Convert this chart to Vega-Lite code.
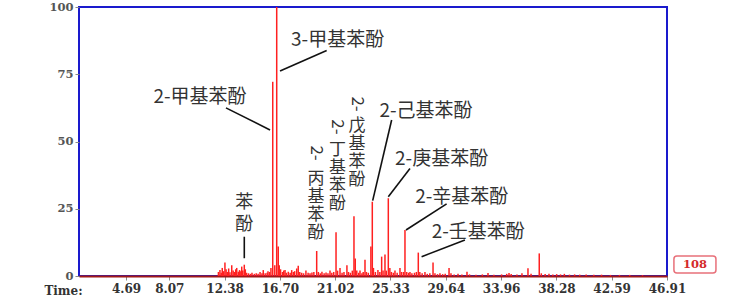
{
  "$schema": "https://vega.github.io/schema/vega-lite/v6.json",
  "width": 588,
  "height": 269,
  "autosize": "none",
  "padding": {"left": 79, "top": 7, "right": 89, "bottom": 24},
  "background": "white",
  "config": {"view": {"stroke": "#1a1acd", "strokeWidth": 2}},
  "datasets": {
    "peaks": [
      {"t": 11.9, "v": 1.5}, {"t": 12.02, "v": 2.2}, {"t": 12.12, "v": 1.2}, {"t": 12.2, "v": 3}, {"t": 12.3, "v": 1.8},
      {"t": 12.41, "v": 5}, {"t": 12.5, "v": 2.5}, {"t": 12.6, "v": 1.5}, {"t": 12.7, "v": 2.8}, {"t": 12.8, "v": 1.4},
      {"t": 12.94, "v": 4}, {"t": 13.05, "v": 2}, {"t": 13.15, "v": 1.5}, {"t": 13.25, "v": 2.5}, {"t": 13.33, "v": 3},
      {"t": 13.45, "v": 1.6}, {"t": 13.55, "v": 2.2}, {"t": 13.65, "v": 1.8}, {"t": 13.72, "v": 3.5}, {"t": 13.8, "v": 2},
      {"t": 13.92, "v": 4.2}, {"t": 14.0, "v": 2.5}, {"t": 14.1, "v": 1.2}, {"t": 14.25, "v": 1}, {"t": 14.4, "v": 0.8},
      {"t": 14.52, "v": 1.2}, {"t": 14.7, "v": 0.8}, {"t": 14.85, "v": 1}, {"t": 15.0, "v": 0.8}, {"t": 15.15, "v": 1.5},
      {"t": 15.3, "v": 1}, {"t": 15.4, "v": 2.2}, {"t": 15.55, "v": 1}, {"t": 15.7, "v": 1.2}, {"t": 15.77, "v": 1.8},
      {"t": 15.9, "v": 1.5}, {"t": 16.0, "v": 3}, {"t": 16.14, "v": 72.2}, {"t": 16.3, "v": 4}, {"t": 16.45, "v": 100},
      {"t": 16.57, "v": 11}, {"t": 16.65, "v": 4}, {"t": 16.75, "v": 2.5}, {"t": 16.9, "v": 1.5}, {"t": 17.0, "v": 2},
      {"t": 17.1, "v": 2.2}, {"t": 17.2, "v": 1.2}, {"t": 17.35, "v": 1.6}, {"t": 17.5, "v": 1.2}, {"t": 17.62, "v": 2.2},
      {"t": 17.75, "v": 1.5}, {"t": 17.85, "v": 1.8}, {"t": 18.01, "v": 2.8}, {"t": 18.13, "v": 3.8}, {"t": 18.25, "v": 1.5},
      {"t": 18.4, "v": 1.2}, {"t": 18.55, "v": 1}, {"t": 18.73, "v": 2}, {"t": 18.9, "v": 1.2}, {"t": 19.05, "v": 1},
      {"t": 19.2, "v": 1.3}, {"t": 19.35, "v": 1.5}, {"t": 19.57, "v": 9.3}, {"t": 19.7, "v": 1.5}, {"t": 19.85, "v": 1},
      {"t": 19.98, "v": 1.6}, {"t": 20.15, "v": 1}, {"t": 20.3, "v": 1.3}, {"t": 20.45, "v": 1}, {"t": 20.61, "v": 2},
      {"t": 20.75, "v": 1.2}, {"t": 20.9, "v": 1.5}, {"t": 21.08, "v": 16.3}, {"t": 21.2, "v": 2}, {"t": 21.39, "v": 3},
      {"t": 21.55, "v": 1.2}, {"t": 21.7, "v": 1.5}, {"t": 21.93, "v": 4}, {"t": 22.05, "v": 1.5}, {"t": 22.2, "v": 1.2},
      {"t": 22.35, "v": 2}, {"t": 22.48, "v": 22.2}, {"t": 22.58, "v": 6.5}, {"t": 22.7, "v": 2}, {"t": 22.85, "v": 1.2},
      {"t": 22.95, "v": 2}, {"t": 23.1, "v": 1}, {"t": 23.2, "v": 1.5}, {"t": 23.34, "v": 6}, {"t": 23.45, "v": 1.5},
      {"t": 23.6, "v": 1.2}, {"t": 23.8, "v": 11}, {"t": 23.91, "v": 27.6}, {"t": 24.0, "v": 3}, {"t": 24.15, "v": 1.5},
      {"t": 24.35, "v": 2.2}, {"t": 24.5, "v": 1.5}, {"t": 24.64, "v": 7.2}, {"t": 24.75, "v": 2}, {"t": 24.9, "v": 8},
      {"t": 25.0, "v": 2}, {"t": 25.16, "v": 28.9}, {"t": 25.28, "v": 3}, {"t": 25.4, "v": 1.5}, {"t": 25.55, "v": 1.2},
      {"t": 25.68, "v": 2}, {"t": 25.85, "v": 1.2}, {"t": 26.07, "v": 3}, {"t": 26.2, "v": 1.5}, {"t": 26.35, "v": 1.5},
      {"t": 26.46, "v": 17.1}, {"t": 26.6, "v": 1.5}, {"t": 26.75, "v": 1.2}, {"t": 26.85, "v": 1.5}, {"t": 27.0, "v": 1},
      {"t": 27.2, "v": 1.2}, {"t": 27.35, "v": 1.5}, {"t": 27.5, "v": 8.7}, {"t": 27.62, "v": 1.5}, {"t": 27.8, "v": 1},
      {"t": 28.02, "v": 1.5}, {"t": 28.2, "v": 0.8}, {"t": 28.4, "v": 1}, {"t": 28.65, "v": 5}, {"t": 28.8, "v": 1},
      {"t": 29.0, "v": 0.7}, {"t": 29.19, "v": 1}, {"t": 29.4, "v": 0.7}, {"t": 29.6, "v": 0.8}, {"t": 29.9, "v": 3},
      {"t": 30.05, "v": 1}, {"t": 30.3, "v": 0.6}, {"t": 30.6, "v": 0.8}, {"t": 30.9, "v": 0.6}, {"t": 31.3, "v": 1.6},
      {"t": 31.5, "v": 0.6}, {"t": 32.0, "v": 0.5}, {"t": 32.5, "v": 0.6}, {"t": 32.94, "v": 1.1}, {"t": 33.4, "v": 0.5},
      {"t": 34.0, "v": 0.6}, {"t": 34.4, "v": 0.8}, {"t": 34.58, "v": 1.1}, {"t": 34.75, "v": 0.7}, {"t": 35.2, "v": 0.6},
      {"t": 35.59, "v": 1}, {"t": 36.06, "v": 2.9}, {"t": 36.3, "v": 0.8}, {"t": 36.94, "v": 8.4}, {"t": 37.1, "v": 1},
      {"t": 37.4, "v": 0.7}, {"t": 37.7, "v": 0.8}, {"t": 38.0, "v": 0.6}, {"t": 38.3, "v": 0.7}, {"t": 38.6, "v": 0.6},
      {"t": 38.9, "v": 0.8}, {"t": 39.3, "v": 0.5}, {"t": 39.7, "v": 0.6}, {"t": 40.1, "v": 0.5}, {"t": 40.6, "v": 0.6},
      {"t": 41.2, "v": 0.5}, {"t": 41.8, "v": 0.5}, {"t": 42.5, "v": 0.4}, {"t": 43.2, "v": 0.4}, {"t": 44.0, "v": 0.4},
      {"t": 45.0, "v": 0.3}
    ],
    "labels": [
      {"name": "2-甲基苯酚", "t": 10.46, "v": 66.5},
      {"name": "3-甲基苯酚", "t": 21.2, "v": 87.7},
      {"name": "2-己基苯酚", "t": 28.1, "v": 61.3},
      {"name": "2-庚基苯酚", "t": 29.32, "v": 43.5},
      {"name": "2-辛基苯酚", "t": 30.89, "v": 29.4},
      {"name": "2-壬基苯酚", "t": 32.18, "v": 16.2}
    ],
    "vlabels": [
      {"name": "丙\n基\n苯\n酚", "t": 19.52, "v": 39.0, "pv": 45.7},
      {"name": "丁\n基\n苯\n酚", "t": 21.19, "v": 49.8, "pv": 55.4},
      {"name": "戊\n基\n苯\n酚", "t": 22.71, "v": 58.7, "pv": 63.9}
    ],
    "phenol": [
      {"name": "苯\n酚", "t": 13.92, "v": 30.5}
    ],
    "leaders": [
      {"t1": 12.49, "v1": 62.5, "t2": 15.93, "v2": 54.3},
      {"t1": 16.71, "v1": 76.2, "t2": 20.35, "v2": 83.8},
      {"t1": 23.94, "v1": 28.0, "t2": 25.42, "v2": 58.0},
      {"t1": 25.16, "v1": 29.5, "t2": 26.85, "v2": 40.0},
      {"t1": 26.54, "v1": 17.1, "t2": 29.71, "v2": 26.8},
      {"t1": 27.76, "v1": 7.2, "t2": 31.14, "v2": 13.4},
      {"t1": 13.92, "v1": 6.6, "t2": 13.92, "v2": 14.6}
    ]
  },
  "layer": [
    {
      "data": {"name": "peaks"},
      "mark": {"type": "rule", "color": "#ff2020", "strokeWidth": 1.5},
      "encoding": {
        "x": {
          "field": "t", "type": "quantitative",
          "scale": {"domain": [1.02, 46.91], "nice": false, "zero": false},
          "axis": {
            "title": "Time:",
            "values": [4.69, 8.07, 12.38, 16.70, 21.02, 25.33, 29.64, 33.96, 38.28, 42.59, 46.91],
            "format": ".2f",
            "domainColor": "#a01818", "domainWidth": 2,
            "tickColor": "#888888", "tickSize": 4,
            "labelFont": "DejaVu Serif", "labelFontWeight": "bold", "labelFontSize": 12, "labelColor": "#333333",
            "labelPadding": 3, "labelFlush": false, "labelOverlap": false, "grid": false,
            "titleFont": "DejaVu Serif", "titleFontWeight": "bold", "titleFontSize": 12, "titleColor": "#333333",
            "titleX": -16, "titleY": 14, "titleAlign": "center", "titleBaseline": "middle"
          }
        },
        "y": {
          "field": "v", "type": "quantitative",
          "scale": {"domain": [0, 100], "nice": false},
          "axis": {
            "title": null, "values": [0, 25, 50, 75, 100], "domain": false, "grid": false,
            "tickColor": "#888888", "tickSize": 4,
            "labelFont": "DejaVu Serif", "labelFontWeight": "bold", "labelFontSize": 11.5, "labelColor": "#555555",
            "labelPadding": 2
          }
        },
        "y2": {"datum": 0}
      }
    },
    {
      "data": {"name": "leaders"},
      "mark": {"type": "rule", "color": "#111111", "strokeWidth": 1.6},
      "encoding": {
        "x": {"field": "t1", "type": "quantitative"},
        "y": {"field": "v1", "type": "quantitative"},
        "x2": {"field": "t2"},
        "y2": {"field": "v2"}
      }
    },
    {
      "data": {"name": "labels"},
      "mark": {"type": "text", "font": "Noto Sans CJK SC", "fontSize": 19, "color": "#333333", "align": "center", "baseline": "middle"},
      "encoding": {
        "x": {"field": "t", "type": "quantitative"},
        "y": {"field": "v", "type": "quantitative"},
        "text": {"field": "name"}
      }
    },
    {
      "data": {"name": "vlabels"},
      "mark": {"type": "text", "font": "Noto Sans CJK SC", "fontSize": 17, "lineHeight": 18, "lineBreak": "\n", "color": "#333333", "align": "center", "baseline": "top"},
      "encoding": {
        "x": {"field": "t", "type": "quantitative"},
        "y": {"field": "v", "type": "quantitative"},
        "text": {"field": "name"}
      }
    },
    {
      "data": {"name": "vlabels"},
      "mark": {"type": "text", "font": "Noto Sans CJK SC", "fontSize": 17, "angle": 90, "color": "#333333", "align": "center", "baseline": "middle"},
      "encoding": {
        "x": {"field": "t", "type": "quantitative"},
        "y": {"field": "pv", "type": "quantitative"},
        "text": {"value": "2-"}
      }
    },
    {
      "data": {"name": "phenol"},
      "mark": {"type": "text", "font": "Noto Sans CJK SC", "fontSize": 18, "lineHeight": 22, "lineBreak": "\n", "color": "#333333", "align": "center", "baseline": "top"},
      "encoding": {
        "x": {"field": "t", "type": "quantitative"},
        "y": {"field": "v", "type": "quantitative"},
        "text": {"field": "name"}
      }
    },
    {
      "data": {"values": [{}]},
      "mark": {"type": "rect", "fill": "white", "stroke": "#e8707a", "strokeWidth": 1.5, "cornerRadius": 3},
      "encoding": {
        "x": {"datum": 47.45, "type": "quantitative"},
        "x2": {"datum": 50.73},
        "y": {"datum": 7.43, "type": "quantitative"},
        "y2": {"datum": 1.12}
      }
    },
    {
      "data": {"values": [{}]},
      "mark": {"type": "text", "font": "DejaVu Serif", "fontWeight": "bold", "fontSize": 11.5, "color": "#d42a2a", "align": "center", "baseline": "middle"},
      "encoding": {
        "x": {"datum": 49.09, "type": "quantitative"},
        "y": {"datum": 4.09, "type": "quantitative"},
        "text": {"value": "108"}
      }
    }
  ]
}
